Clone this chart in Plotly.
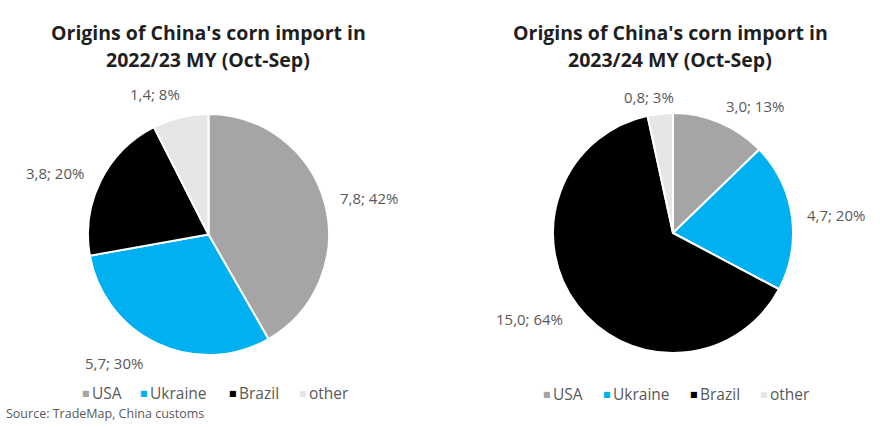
import math
import plotly.graph_objects as go

# ---------------- data ----------------
countries = ["USA", "Ukraine", "Brazil", "other"]
imports_2022_23 = [7.8, 5.7, 3.8, 1.4]      # mln t
share_2022_23 = [42, 30, 20, 8]             # %
imports_2023_24 = [3.0, 4.7, 15.0, 0.8]     # mln t
share_2023_24 = [13, 20, 64, 3]             # %
title_2022_23 = ["Origins of China's corn import in", "2022/23 MY (Oct-Sep)"]
title_2023_24 = ["Origins of China's corn import in", "2023/24 MY (Oct-Sep)"]
source_note = "Source: TradeMap, China customs"

# ---------------- style / layout ----------------
W, H = 880, 427
colors = ["#A5A5A5", "#00B0F0", "#000000", "#E7E6E6"]
FONT = "Open Sans"
TXT = "#595959"

# pie boxes in pixels: (left, right, top, bottom)
pie_boxes = [(88, 329, 114, 355), (553, 793, 113, 353)]
# small manual nudges (px) for data labels, per slice
label_nudges = [
    [(0, 0), (-24, -1), (-4, 2), (-16, -2)],
    [(18, 4), (-1, 2), (-9, 0), (-7, 5)],
]
label_widths = [[62, 62, 62, 50], [57, 62, 67, 52]]
title_centers = [208, 670]
legend_marker_x = [[80, 138, 227, 297], [541, 601, 688, 758]]
legend_y = [393, 394]


def px(x):
    return x / W


def py(y):
    return 1 - y / H


fig = go.Figure()
annotations = []

datasets = [
    (imports_2022_23, share_2022_23, title_2022_23),
    (imports_2023_24, share_2023_24, title_2023_24),
]

for i, (vals, shares, title) in enumerate(datasets):
    l, r, t, b = pie_boxes[i]
    fig.add_trace(go.Pie(
        labels=countries,
        values=vals,
        sort=False,
        direction="clockwise",
        rotation=0,
        marker=dict(colors=colors, line=dict(color="white", width=2)),
        textinfo="none",
        showlegend=False,
        domain=dict(x=[px(l), px(r)], y=[py(b), py(t)]),
    ))

    # data labels placed outside each slice, from slice mid-angle
    cx, cy = (l + r) / 2, (t + b) / 2
    R = (r - l) / 2
    total = sum(vals)
    cum = 0.0
    for j, v in enumerate(vals):
        mid = (cum + v / 2) / total * 2 * math.pi
        cum += v
        dx, dy = math.sin(mid), -math.cos(mid)
        dist = R + 15
        w = label_widths[i][j]
        lx = cx + dist * dx + (w / 2) * dx + label_nudges[i][j][0]
        ly = cy + dist * dy + 7 * dy + label_nudges[i][j][1]
        txt = f"{v:.1f}".replace(".", ",") + f"; {shares[j]}%"
        annotations.append(dict(
            x=px(lx), y=py(ly), xref="paper", yref="paper",
            text=txt, showarrow=False, xanchor="center", yanchor="middle",
            font=dict(family=FONT, size=15, color=TXT),
        ))

    # titles
    for k, line in enumerate(title):
        annotations.append(dict(
            x=px(title_centers[i]), y=py(33 + 27 * k), xref="paper", yref="paper",
            text=f"<b>{line}</b>", showarrow=False, xanchor="center", yanchor="middle",
            font=dict(family=FONT, size=19.5, color="#1F1F1F"),
        ))

    # legend
    for j, name in enumerate(countries):
        mx = legend_marker_x[i][j]
        annotations.append(dict(
            x=px(mx), y=py(legend_y[i]), xref="paper", yref="paper",
            text="■", showarrow=False, xanchor="left", yanchor="middle",
            font=dict(family="DejaVu Sans", size=8, color=colors[j]),
        ))
        annotations.append(dict(
            x=px(mx + 10), y=py(legend_y[i]), xref="paper", yref="paper",
            text=name, showarrow=False, xanchor="left", yanchor="middle",
            font=dict(family=FONT, size=15.5, color=TXT),
        ))

annotations.append(dict(
    x=px(4), y=py(413), xref="paper", yref="paper",
    text=source_note, showarrow=False, xanchor="left", yanchor="middle",
    font=dict(family=FONT, size=12.5, color=TXT),
))

fig.update_layout(
    width=W, height=H,
    margin=dict(l=0, r=0, t=0, b=0),
    paper_bgcolor="white", plot_bgcolor="white",
    annotations=annotations,
    showlegend=False,
)

fig.write_html("out.html")
